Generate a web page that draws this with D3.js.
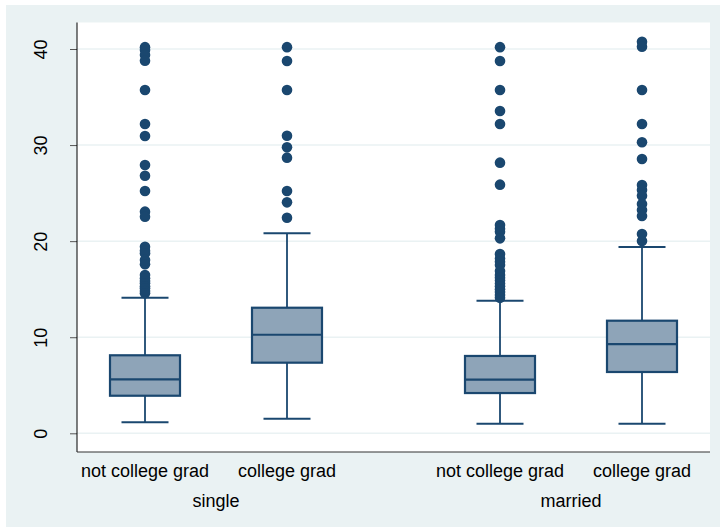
<!DOCTYPE html>
<html>
<head>
<meta charset="utf-8">
<script src="https://cdn.jsdelivr.net/npm/d3@7"></script>
<style>
  html, body { margin: 0; padding: 0; background: #ffffff; }
  svg { display: block; }
  text { font-family: "Liberation Sans", Arial, sans-serif; fill: #000; }
</style>
</head>
<body>
<svg id="chart" width="720" height="527"></svg>
<script>
// Hourly wage by college graduation status, split by marital status
const groups = ["single", "married"];
const categories = ["not college grad", "college grad"];

// Box summary per group/category: [lower whisker, Q1, median, Q3, upper whisker]
const singleStats  = [[1.14, 3.91, 5.62, 8.12, 14.11], [1.52, 7.35, 10.26, 13.07, 20.82]];
const marriedStats = [[1.00, 4.19, 5.58, 8.05, 13.80], [1.00, 6.38, 9.29, 11.72, 19.39]];

// Outside values
const singleOutliers = [
  [40.19, 39.9, 39.37, 38.78, 35.73, 32.19, 30.94, 27.92, 26.81, 25.22, 23.07, 22.55,
   19.42, 19.0, 18.73, 18.04, 17.6, 16.48, 16.13, 15.85, 15.61, 15.3, 15.09, 14.8, 14.57],
  [40.19, 38.75, 35.73, 30.97, 29.77, 28.69, 25.22, 24.04, 22.44]
];
const marriedOutliers = [
  [40.19, 38.75, 35.73, 33.55, 32.19, 28.17, 25.88, 21.68, 21.3, 20.99, 20.29, 18.66,
   18.2, 17.86, 17.52, 16.9, 16.48, 16.2, 15.9, 15.6, 15.3, 15.0, 14.7, 14.4, 14.1],
  [40.76, 40.24, 35.73, 32.19, 30.29, 28.55, 25.85, 25.32, 24.73, 23.87, 23.24, 22.62,
   20.75, 20.02]
];

const yTicks = [0, 10, 20, 30, 40];

const stats = [singleStats, marriedStats];
const outliers = [singleOutliers, marriedOutliers];

const navy = "#1a476f";
const boxFill = "#8ea4b8";
const bg = "#eaf2f3";

const svg = d3.select("#chart");

// Graph region and plot region
const outer = { x0: 6, y0: 5, x1: 720, y1: 527 };
const plot = { left: 77, right: 710, top: 22.5, bottom: 452 };

svg.append("rect")
  .attr("x", outer.x0).attr("y", outer.y0)
  .attr("width", outer.x1 - outer.x0).attr("height", outer.y1 - outer.y0)
  .attr("fill", bg);

svg.append("rect")
  .attr("x", plot.left).attr("y", plot.top)
  .attr("width", plot.right - plot.left).attr("height", plot.bottom - plot.top)
  .attr("fill", "#ffffff");

const y = d3.scaleLinear().domain([0, 40]).range([433.3, 49]);

// Box slots: two per group with a wider gap between groups
const slot = (g, c) => g * 2.5 + c;
const x = d3.scaleLinear().domain([0, 3.5]).range([145, 642]);
const boxHalf = 35;
const capHalf = 23.5;

// Gridlines
svg.append("g")
  .selectAll("line")
  .data(yTicks)
  .join("line")
  .attr("x1", plot.left).attr("x2", plot.right)
  .attr("y1", d => y(d)).attr("y2", d => y(d))
  .attr("stroke", bg).attr("stroke-width", 1.5);

// Y axis
const yAxis = d3.axisLeft(y).tickValues(yTicks).tickSize(7).tickPadding(0).tickFormat(d3.format("d"));
const yg = svg.append("g").attr("transform", `translate(${plot.left},0)`).call(yAxis);
yg.select(".domain").remove();
yg.selectAll(".tick line").attr("stroke", "#555").attr("stroke-width", 1);
yg.selectAll(".tick text")
  .attr("font-size", 18)
  .attr("text-anchor", "middle")
  .attr("dy", 0)
  .attr("transform", "translate(-36,0) rotate(-90)")
  .attr("x", 0)
  .attr("y", 0)
  .attr("dominant-baseline", "central")
  .style("font-family", "'Liberation Sans', Arial, sans-serif");

svg.append("line")
  .attr("x1", plot.left).attr("x2", plot.left)
  .attr("y1", plot.top).attr("y2", plot.bottom)
  .attr("stroke", "#000").attr("stroke-width", 1);
svg.append("line")
  .attr("x1", plot.left).attr("x2", plot.right)
  .attr("y1", plot.bottom).attr("y2", plot.bottom)
  .attr("stroke", "#333").attr("stroke-width", 1.2);

// Boxes
const boxes = [];
groups.forEach((g, gi) => categories.forEach((c, ci) => {
  boxes.push({ group: g, cat: c, cx: x(slot(gi, ci)), s: stats[gi][ci], out: outliers[gi][ci] });
}));

const bx = svg.append("g").selectAll("g").data(boxes).join("g");

// whiskers
bx.append("line")
  .attr("x1", d => d.cx).attr("x2", d => d.cx)
  .attr("y1", d => y(d.s[3])).attr("y2", d => y(d.s[4]))
  .attr("stroke", navy).attr("stroke-width", 1.8);
bx.append("line")
  .attr("x1", d => d.cx).attr("x2", d => d.cx)
  .attr("y1", d => y(d.s[0])).attr("y2", d => y(d.s[1]))
  .attr("stroke", navy).attr("stroke-width", 1.8);
// caps
bx.append("line")
  .attr("x1", d => d.cx - capHalf).attr("x2", d => d.cx + capHalf)
  .attr("y1", d => y(d.s[4])).attr("y2", d => y(d.s[4]))
  .attr("stroke", navy).attr("stroke-width", 2);
bx.append("line")
  .attr("x1", d => d.cx - capHalf).attr("x2", d => d.cx + capHalf)
  .attr("y1", d => y(d.s[0])).attr("y2", d => y(d.s[0]))
  .attr("stroke", navy).attr("stroke-width", 2);
// box
bx.append("rect")
  .attr("x", d => d.cx - boxHalf).attr("width", boxHalf * 2)
  .attr("y", d => y(d.s[3])).attr("height", d => y(d.s[1]) - y(d.s[3]))
  .attr("fill", boxFill).attr("stroke", navy).attr("stroke-width", 2.2);
// median
bx.append("line")
  .attr("x1", d => d.cx - boxHalf).attr("x2", d => d.cx + boxHalf)
  .attr("y1", d => y(d.s[2])).attr("y2", d => y(d.s[2]))
  .attr("stroke", navy).attr("stroke-width", 2.2);
// outside values
bx.selectAll("circle")
  .data(d => d.out.map(v => ({ cx: d.cx, v })))
  .join("circle")
  .attr("cx", d => d.cx).attr("cy", d => y(d.v))
  .attr("r", 5.3)
  .attr("fill", navy);

// Category labels
svg.append("g").selectAll("text").data(boxes).join("text")
  .attr("x", d => d.cx).attr("y", 477)
  .attr("text-anchor", "middle")
  .attr("font-size", 18)
  .text(d => d.cat);

// Group labels
svg.append("g").selectAll("text").data(groups).join("text")
  .attr("x", (d, gi) => (x(slot(gi, 0)) + x(slot(gi, 1))) / 2)
  .attr("y", 507)
  .attr("text-anchor", "middle")
  .attr("font-size", 18)
  .text(d => d);
</script>
</body>
</html>
